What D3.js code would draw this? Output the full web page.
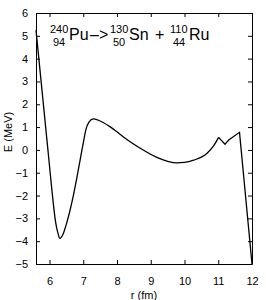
<!DOCTYPE html>
<html>
<head>
<meta charset="utf-8">
<script src="https://cdn.jsdelivr.net/npm/d3@7"></script>
<style>
  body { margin: 0; background: #fff; }
  text { font-family: "Liberation Sans", Arial, sans-serif; fill: #000; }
</style>
</head>
<body>
<div id="chart"></div>
<script>
// r (fm) and E (MeV)
var rSmooth = [5.6, 5.94, 6.0, 6.06, 6.12, 6.18, 6.25, 6.31, 6.4, 6.5, 6.6, 6.7, 6.8, 6.9, 7.0, 7.08, 7.17, 7.3, 7.45, 7.8, 8.19, 8.69, 9.18, 9.5, 9.78, 10.0, 10.27, 10.67, 10.85, 11.01];
var eSmooth = [5.25, 0.2, -0.7, -1.6, -2.45, -3.15, -3.65, -3.88, -3.7, -3.25, -2.7, -2.05, -1.3, -0.5, 0.3, 0.9, 1.22, 1.36, 1.3, 1.01, 0.57, 0.07, -0.33, -0.5, -0.57, -0.55, -0.45, -0.15, 0.15, 0.55];
var rTail = [11.01, 11.2, 11.31, 11.63, 12.0];
var eTail = [0.55, 0.25, 0.43, 0.77, -5.0];

var xTicks = [6, 7, 8, 9, 10, 11, 12];
var yTicks = [-5, -4, -3, -2, -1, 0, 1, 2, 3, 4, 5, 6];

var width = 266, height = 300;
var margin = {top: 13, right: 14, bottom: 36, left: 36};

var svg = d3.select('#chart')
    .append('svg')
        .attr('width', width)
        .attr('height', height);

var x = d3.scaleLinear().domain([5.6, 12]).range([margin.left, width - margin.right]);
var y = d3.scaleLinear().domain([-5, 6]).range([height - margin.bottom, margin.top]);

var fmt = function(d) { return d < 0 ? '\u2212' + Math.abs(d) : d; };

// bottom + top
svg.append('g')
    .attr('transform', 'translate(0,' + y(-5) + ')')
    .call(d3.axisBottom(x).tickValues(xTicks).tickSizeInner(-4).tickSizeOuter(0).tickPadding(13).tickFormat(fmt));
svg.append('g')
    .attr('transform', 'translate(0,' + y(6) + ')')
    .call(d3.axisTop(x).tickValues(xTicks).tickSizeInner(-4).tickSizeOuter(0).tickFormat(''));
// left + right
svg.append('g')
    .attr('transform', 'translate(' + x(5.6) + ',0)')
    .call(d3.axisLeft(y).tickValues(yTicks).tickSizeInner(-4).tickSizeOuter(0).tickPadding(8).tickFormat(fmt));
svg.append('g')
    .attr('transform', 'translate(' + x(12) + ',0)')
    .call(d3.axisRight(y).tickValues(yTicks).tickSizeInner(-4).tickSizeOuter(0).tickFormat(''));

svg.selectAll('.tick text').style('font-size', '11px').style('font-family', '"Liberation Sans", Arial, sans-serif');
svg.selectAll('.domain').attr('stroke', '#000');
svg.selectAll('.tick line').attr('stroke', '#000');

function drawPart(rs, es, curve) {
    var line = d3.line()
        .x(function(d, i) { return x(rs[i]); })
        .y(function(d, i) { return y(es[i]); })
        .curve(curve);
    svg.append('path')
        .attr('d', line(rs))
        .attr('fill', 'none')
        .attr('stroke', '#000')
        .attr('stroke-width', 1.3);
}
drawPart(rSmooth, eSmooth, d3.curveMonotoneX);
drawPart(rTail, eTail, d3.curveLinear);

// axis titles
svg.append('text')
    .attr('x', 144).attr('y', 299)
    .attr('text-anchor', 'middle')
    .style('font-size', '11px')
    .text('r (fm)');
svg.append('text')
    .attr('transform', 'translate(12,132) rotate(-90)')
    .attr('text-anchor', 'middle')
    .style('font-size', '11px')
    .text('E (MeV)');

// reaction label
function nucleus(xs, mass, z, sym) {
    svg.append('text').attr('x', xs).attr('y', 33).style('font-size', '11px').text(mass);
    svg.append('text').attr('x', xs + 3).attr('y', 46).style('font-size', '11px').text(z);
    svg.append('text').attr('x', xs + 19).attr('y', 40).style('font-size', '16px').text(sym);
}
nucleus(50, '240', '94', 'Pu');
svg.append('text').attr('x', 90).attr('y', 40).style('font-size', '16px').text('\u2013>');
nucleus(110, '130', '50', 'Sn');
svg.append('text').attr('x', 155).attr('y', 40).style('font-size', '16px').text('+');
nucleus(170, '110', '44', 'Ru');
</script>
</body>
</html>
